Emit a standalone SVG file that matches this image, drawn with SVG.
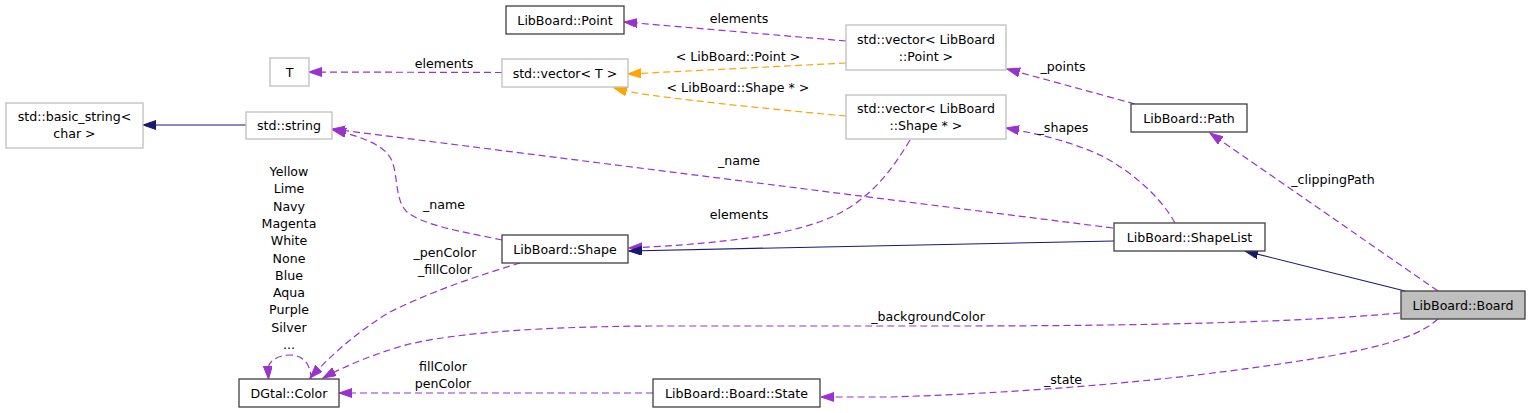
<svg xmlns="http://www.w3.org/2000/svg" width="1531" height="413" viewBox="0 0 1531 413">
<style>
text{font-family:"DejaVu Sans","Liberation Sans",sans-serif;font-size:12.6px;fill:#000;text-anchor:middle}
.nb rect{fill:#fff;stroke:#404040;stroke-width:1.3}
.ng rect{fill:#fff;stroke:#bfbfbf;stroke-width:1.3}
.cur rect{fill:#bfbfbf;stroke:#404040;stroke-width:1.3}
.p{fill:none;stroke:#9a32cd;stroke-width:1.2;stroke-dasharray:7,4}
.o{fill:none;stroke:#ffa500;stroke-width:1.2;stroke-dasharray:7,4}
.n{fill:none;stroke:#191970;stroke-width:1.2}
</style>
<defs>
<marker id="ap" markerUnits="userSpaceOnUse" markerWidth="14" markerHeight="11" refX="13" refY="4.5" orient="auto"><path d="M0,0 L13,4.5 L0,9 z" fill="#9a32cd" stroke="#9a32cd"/></marker>
<marker id="ao" markerUnits="userSpaceOnUse" markerWidth="14" markerHeight="11" refX="13" refY="4.5" orient="auto"><path d="M0,0 L13,4.5 L0,9 z" fill="#ffa500" stroke="#ffa500"/></marker>
<marker id="an" markerUnits="userSpaceOnUse" markerWidth="14" markerHeight="11" refX="13" refY="4.5" orient="auto"><path d="M0,0 L13,4.5 L0,9 z" fill="#191970" stroke="#191970"/></marker>
</defs>
<g id="edges">
<path class="p" d="M846,41 L624,22" marker-end="url(#ap)"/>
<text x="739" y="23">elements</text>
<path class="o" d="M846,63 L628,74" marker-end="url(#ao)"/>
<text x="738" y="61">&lt; LibBoard::Point &gt;</text>
<path class="o" d="M846,116 C780,110 700,102 650,95 C635,93 625,91 614,88" marker-end="url(#ao)"/>
<text x="738" y="92">&lt; LibBoard::Shape * &gt;</text>
<path class="p" d="M502,72.5 L309,72" marker-end="url(#ap)"/>
<text x="444" y="68">elements</text>
<path class="n" d="M246,125 L143,125" marker-end="url(#an)"/>
<path class="p" d="M1113,228 L332,129" marker-end="url(#ap)"/>
<text x="739" y="165">_name</text>
<path class="p" d="M502,240 C470,233 422,226 406,211 C395,199 398,176 392,161 C386,147 368,138 333,130" marker-end="url(#ap)"/>
<text x="444" y="209">_name</text>
<path class="p" d="M910,140 C895,165 880,185 860,200 C830,224 780,241 629,248" marker-end="url(#ap)"/>
<text x="739" y="219">elements</text>
<path class="n" d="M1114,241 L629,251" marker-end="url(#an)"/>
<path class="p" d="M1175,223 C1160,196 1132,172 1102,156 C1072,142 1040,134 1006,128" marker-end="url(#ap)"/>
<text x="1063" y="132">_shapes</text>
<path class="p" d="M1135,104 L1007,69" marker-end="url(#ap)"/>
<text x="1063" y="71">_points</text>
<path class="p" d="M1438,291 L1210,133" marker-end="url(#ap)"/>
<text x="1333" y="184">_clippingPath</text>
<path class="n" d="M1405,291 L1245,251" marker-end="url(#an)"/>
<path class="p" d="M1400,313 C1300,322 1150,326 950,326 L650,326 C520,327 442,335 402,346 C372,355 345,366 323,378" marker-end="url(#ap)"/>
<text x="928" y="321">_backgroundColor</text>
<path class="p" d="M1438,319 C1420,335 1390,345 1330,356 C1200,378 1050,392 890,397 L821,397" marker-end="url(#ap)"/>
<text x="1063" y="384">_state</text>
<path class="p" d="M653,393 L339,393" marker-end="url(#ap)"/>
<text x="443" y="371">fillColor</text>
<text x="443" y="388">penColor</text>
<path class="p" d="M520,263 C480,275 432,291 390,312 C360,330 334,352 310,378" marker-end="url(#ap)"/>
<text x="445" y="257">_penColor</text>
<text x="445" y="274">_fillColor</text>
<path class="p" d="M311,379 C311,363 302,355 290,355 C277,355 268,362 268,369 L268.5,379" marker-end="url(#ap)"/>
<text x="289" y="176">Yellow</text>
<text x="289" y="193.3">Lime</text>
<text x="289" y="210.6">Navy</text>
<text x="289" y="227.9">Magenta</text>
<text x="289" y="245.2">White</text>
<text x="289" y="262.5">None</text>
<text x="289" y="279.8">Blue</text>
<text x="289" y="297.1">Aqua</text>
<text x="289" y="314.4">Purple</text>
<text x="289" y="331.7">Silver</text>
<text x="289" y="349">...</text>
</g>
<g id="node-board" class="cur"><rect x="1401" y="291" width="124" height="28"/><text x="1463" y="309.5">LibBoard::Board</text></g>
<g id="node-shapelist" class="nb"><rect x="1114" y="223" width="151" height="28"/><text x="1189.5" y="241.5">LibBoard::ShapeList</text></g>
<g id="node-shape" class="nb"><rect x="502" y="235" width="126" height="28"/><text x="565" y="253.5">LibBoard::Shape</text></g>
<g id="node-string" class="ng"><rect x="246" y="112" width="86" height="27"/><text x="289" y="130">std::string</text></g>
<g id="node-basicstring" class="ng"><rect x="6" y="103" width="137" height="45"/><text x="74.5" y="121">std::basic_string&lt;</text><text x="74.5" y="138">char &gt;</text></g>
<g id="node-vecshape" class="ng"><rect x="846" y="95" width="160" height="44"/><text x="926" y="113">std::vector&lt; LibBoard</text><text x="926" y="130">::Shape * &gt;</text></g>
<g id="node-vecT" class="ng"><rect x="502" y="59" width="126" height="28"/><text x="565" y="77.5">std::vector&lt; T &gt;</text></g>
<g id="node-T" class="ng"><rect x="270" y="58" width="39" height="28"/><text x="289.5" y="76.5">T</text></g>
<g id="node-vecpoint" class="ng"><rect x="846" y="25" width="160" height="45"/><text x="926" y="43.5">std::vector&lt; LibBoard</text><text x="926" y="60.5">::Point &gt;</text></g>
<g id="node-point" class="nb"><rect x="506" y="6" width="118" height="28"/><text x="565" y="24.5">LibBoard::Point</text></g>
<g id="node-path" class="nb"><rect x="1131" y="104" width="116" height="28"/><text x="1189" y="122.5">LibBoard::Path</text></g>
<g id="node-color" class="nb"><rect x="239" y="379" width="100" height="28"/><text x="289" y="397.5">DGtal::Color</text></g>
<g id="node-state" class="nb"><rect x="653" y="379" width="167" height="28"/><text x="736.5" y="397.5">LibBoard::Board::State</text></g>
</svg>
